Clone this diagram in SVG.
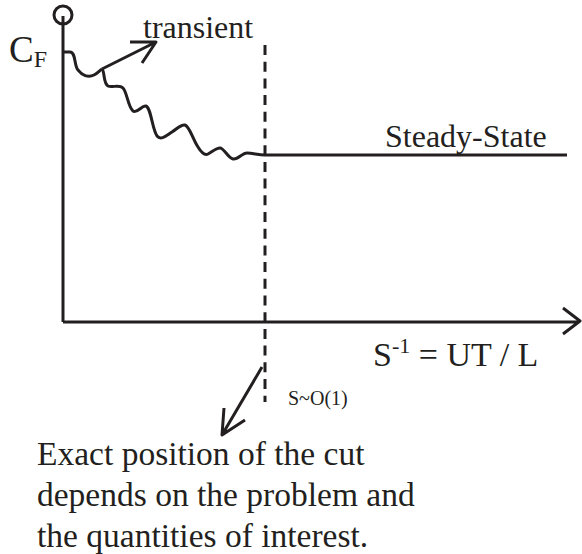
<svg xmlns="http://www.w3.org/2000/svg" width="582" height="554" viewBox="0 0 582 554">
<style>
.ln{fill:none;stroke:#231f20;stroke-width:3;stroke-linecap:butt;stroke-linejoin:round}
.t{font-family:"Liberation Serif","Times New Roman",serif;fill:#231f20}
</style>
<rect width="582" height="554" fill="#fff"/>
<g id="connectors">
<circle class="ln" cx="63" cy="15" r="9"/>
<path id="y-axis" class="ln" d="M63,16 L63,322"/>
<path id="x-axis" class="ln" d="M63,322 L579,322 M563,308 L580,321 L563,334"/>
<path id="cut" class="ln" d="M265,45 L265,402" stroke-dasharray="10 6.7"/>
<path id="curve1" class="ln" d="M63,52 L70,52 C76,52 74,66 78,70 C82,75 88,78 94,75 C98,73 100,70 102,69"/>
<path id="curve2" class="ln" d="M102,69 C105,72 103,83 108,86 C112,88 119,84 123,88 C127,92 128,107 133,111 C137,114 142,105 146,106 C151,108 152,128 157,136 C161,141 167,135 172,132 C177,129 181,124 185,125 C190,127 193,140 198,147 C201,152 204,156 208,154 C212,152 216,148 220,148 C224,148 228,158 233,159 C238,160 242,153 247,153 C253,153 258,155 265,155 L567,155"/>
<path id="transient-arrow" class="ln" d="M102,69 L156,42 M130,42 L156,42 L142,63"/>
<path id="cut-arrow" class="ln" d="M262,367 L222,435 M224,408 L222,435 L245,420"/>
</g>
<g id="label-cf"><text class="t" x="9" y="62" font-size="37">C<tspan font-size="24" dy="5">F</tspan></text></g>
<g id="label-transient"><text class="t" x="143" y="38" font-size="32">transient</text></g>
<g id="label-steady"><text class="t" x="385" y="147" font-size="32">Steady-State</text></g>
<g id="label-s"><text class="t" x="373" y="366" font-size="34">S<tspan font-size="22" dy="-13">-1</tspan><tspan dy="13"> = UT / L</tspan></text></g>
<g id="label-so1"><text class="t" x="288" y="405" font-size="20">S~O(1)</text></g>
<g id="note"><text class="t" font-size="33.5"><tspan x="37" y="465">Exact position of the cut</tspan><tspan x="37" y="506">depends on the problem and</tspan><tspan x="37" y="547">the quantities of interest.</tspan></text></g>
</svg>
